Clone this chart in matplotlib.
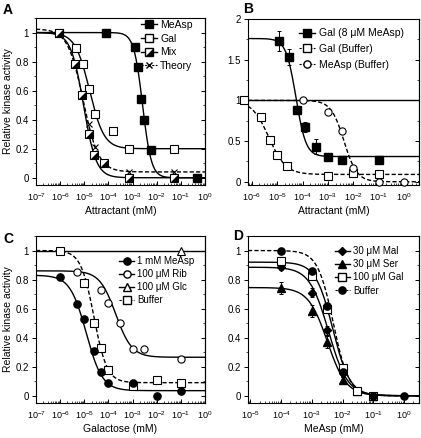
import numpy as np
import matplotlib.pyplot as plt
from matplotlib.ticker import LogLocator, MultipleLocator, NullFormatter
from matplotlib.lines import Line2D

plt.rcParams['font.family'] = ['Liberation Sans', 'DejaVu Sans']
plt.rcParams['font.size'] = 7
plt.rcParams['mathtext.default'] = 'regular'
plt.rcParams['axes.linewidth'] = 0.8

# ---------------- data ----------------
# Panel A
a_measp_x = [8e-5, 1.25e-3, 1.65e-3, 2.15e-3, 2.95e-3, 5.6e-3, 0.47]
a_measp_y = [1.0, 0.90, 0.76, 0.54, 0.40, 0.19, 0.0]
a_gal_x = [9e-7, 4.6e-6, 8.5e-6, 1.6e-5, 2.8e-5, 1.6e-4, 7e-4, 5.2e-2]
a_gal_y = [1.0, 0.89, 0.78, 0.61, 0.44, 0.32, 0.20, 0.20]
a_mix_x = [9e-7, 4.2e-6, 7.8e-6, 1.6e-5, 2.6e-5, 6.6e-5, 7e-4, 5.2e-2]
a_mix_y = [1.0, 0.78, 0.57, 0.30, 0.155, 0.10, 0.0, 0.0]
a_theory_x = [9e-7, 4.2e-6, 7.8e-6, 1.5e-5, 2.8e-5, 6.6e-5, 7e-4, 5.2e-2]
a_theory_y = [1.0, 0.78, 0.57, 0.37, 0.21, 0.10, 0.04, 0.04]
# fit parameters: top, bottom, K, n
a_fit_measp = (1.0, 0.0, 2.6e-3, 2.4)
a_fit_gal = (1.0, 0.2, 1.66e-5, 1.45)
a_fit_mix = (1.0, 0.0, 9.3e-6, 1.65)
a_fit_theory = (1.025, 0.04, 9e-6, 1.35)

# Panel B
b_gal8_x = [1.2e-5, 3e-5, 6e-5, 1.2e-4, 3.5e-4, 1e-3, 3.5e-3, 1e-1]
b_gal8_y = [1.73, 1.53, 0.88, 0.675, 0.43, 0.31, 0.27, 0.27]
b_gal8_err = [0.12, 0.10, 0.03, 0.06, 0.09, 0.02, 0.03, 0.02]
b_galbuf_x = [5e-7, 2.3e-6, 5e-6, 1e-5, 2.4e-5, 1e-3, 1e-2, 1e-1]
b_galbuf_y = [1.0, 0.79, 0.51, 0.33, 0.19, 0.07, 0.11, 0.095]
b_measpbuf_x = [1e-4, 1e-3, 3.5e-3, 1e-2, 1e-1, 1e0]
b_measpbuf_y = [1.0, 0.86, 0.62, 0.165, 0.0, 0.0]
b_fit_gal8 = (1.76, 0.31, 5.5e-5, 2.2)
b_fit_galbuf = (1.0, 0.09, 4.7e-6, 1.3)
b_fit_measpbuf = (1.0, 0.0, 4.3e-3, 1.7)
b_ref_level = 1.0

# Panel C
c_measp_x = [1e-6, 5e-6, 1e-5, 2.5e-5, 5e-5, 1e-4, 1e-3, 1e-2, 1e-1]
c_measp_y = [0.82, 0.63, 0.53, 0.31, 0.165, 0.09, 0.09, 0.0, 0.03]
c_rib_x = [5e-6, 5e-5, 1e-4, 3e-4, 1e-3, 3e-3, 1e-1]
c_rib_y = [0.85, 0.725, 0.64, 0.50, 0.325, 0.325, 0.25]
c_glc_x = [1e-1]
c_glc_y = [1.0]
c_buf_x = [1e-6, 1e-5, 2.5e-5, 5e-5, 1e-4, 1e-3, 1e-2, 1e-1]
c_buf_y = [1.0, 0.775, 0.50, 0.33, 0.18, 0.065, 0.11, 0.09]
c_fit_measp = (0.83, 0.035, 1.2e-5, 1.3)
c_fit_rib = (0.86, 0.265, 2e-4, 1.3)
c_fit_buf = (1.0, 0.09, 2.5e-5, 1.6)

# Panel D
d_x = [1e-4, 1e-3, 3e-3, 1e-2, 3e-2, 1e-1]
d_mal_y = [0.885, 0.71, 0.45, 0.16, 0.03, 0.0]
d_mal_err = [0.02, 0.03, 0.03, 0.03, 0.01, 0.0]
d_ser_y = [0.74, 0.585, 0.37, 0.11, 0.03, 0.0]
d_ser_err = [0.04, 0.04, 0.04, 0.02, 0.01, 0.0]
d_gal_y = [0.925, 0.825, 0.60, 0.19, 0.035, 0.0]
d_gal_err = [0.03, 0.02, 0.03, 0.02, 0.01, 0.0]
d_buf_x = [1e-4, 1e-3, 3e-3, 1e-2, 1e-1, 1e0]
d_buf_y = [1.0, 0.86, 0.62, 0.165, 0.0, 0.0]
d_fit_mal = (0.885, 0.0, 3.5e-3, 1.4)
d_fit_ser = (0.745, 0.0, 3.2e-3, 1.4)
d_fit_gal = (0.92, 0.0, 4.8e-3, 1.55)
d_fit_buf = (1.0, 0.0, 5e-3, 1.7)


def hill(x, p):
    top, bottom, k, n = p
    return bottom + (top - bottom) / (1 + (x / k) ** n)


W, H = 421, 438
fig = plt.figure(figsize=(W / 100, H / 100), dpi=100)


def box(l, t, r, b):
    return [l / W, 1 - b / H, (r - l) / W, (b - t) / H]


axA = fig.add_axes(box(36, 18, 205, 185))
axB = fig.add_axes(box(248, 19, 419, 185))
axC = fig.add_axes(box(36, 236, 205, 403))
axD = fig.add_axes(box(248, 236, 419, 403))

LW = 1.0
MS = 5.2
K = 'black'


def style(ax, xlim, ylim, yticks, yminor, ylabels):
    ax.set_xscale('log')
    ax.set_xlim(*xlim)
    ax.set_ylim(*ylim)
    ax.xaxis.set_major_locator(LogLocator(base=10, numticks=20))
    ax.xaxis.set_minor_locator(LogLocator(base=10, subs=np.arange(2, 10), numticks=20))
    ax.xaxis.set_minor_formatter(NullFormatter())
    ax.set_yticks(yticks)
    ax.set_yticklabels(ylabels)
    ax.yaxis.set_minor_locator(MultipleLocator(yminor))
    ax.tick_params(axis='x', which='major', direction='in', length=3, width=0.7, pad=4.5, labelsize=6.5)
    ax.tick_params(axis='x', which='minor', direction='in', length=1.6, width=0.5)
    ax.tick_params(axis='y', which='major', direction='out', length=3, width=0.7, pad=2, labelsize=7)
    ax.tick_params(axis='y', which='minor', direction='out', length=1.6, width=0.5)
    # inward ticks on the right-hand spine
    sec = ax.secondary_yaxis('right')
    sec.set_yticks(yticks)
    sec.yaxis.set_minor_locator(MultipleLocator(yminor))
    sec.tick_params(axis='y', which='major', direction='in', length=3, width=0.7, labelright=False)
    sec.tick_params(axis='y', which='minor', direction='in', length=1.6, width=0.5)
    sec.spines['right'].set_linewidth(0.8)


def curve(ax, xlim, p, ls='-'):
    xs = np.logspace(np.log10(xlim[0]), np.log10(xlim[1]), 400)
    ax.plot(xs, hill(xs, p), color=K, lw=LW, ls=ls, dashes=(3, 1.6) if ls == '--' else (None, None), zorder=2)


half_tri = [(-1, -1), (1, -1), (1, 1), (-1, -1)]
leg_kw = dict(loc='upper left', frameon=False, handlelength=1.5, handletextpad=0.35, borderpad=0.0)

# ---------------- Panel A ----------------
xlimA = (1e-7, 1e0)
style(axA, xlimA, (-0.05, 1.1), [0, 0.2, 0.4, 0.6, 0.8, 1], 0.1,
      ['0', '0.2', '0.4', '0.6', '0.8', '1'])
curve(axA, xlimA, a_fit_theory, '--')
curve(axA, xlimA, a_fit_gal)
curve(axA, xlimA, a_fit_mix)
curve(axA, xlimA, a_fit_measp)
axA.plot(a_theory_x, a_theory_y, 'x', color=K, ms=5, mew=0.8, zorder=4)
axA.plot(a_gal_x, a_gal_y, 's', mfc='white', mec=K, ms=MS, mew=0.8, zorder=3)
axA.plot(a_mix_x, a_mix_y, 's', mfc='white', mec=K, ms=MS, mew=0.8, zorder=5)
axA.plot(a_mix_x, a_mix_y, ls='none', marker=half_tri, mfc=K, mec=K, ms=MS, mew=0, zorder=5)
axA.plot(a_measp_x, a_measp_y, 's', mfc=K, mec=K, ms=MS, zorder=5)
axA.set_ylabel('Relative kinase activity', fontsize=7.5, labelpad=2)
axA.set_xlabel('Attractant (mM)', fontsize=7.5, labelpad=2)

hA = [Line2D([], [], color=K, lw=LW, marker='s', mfc=K, ms=MS),
      (Line2D([], [], color=K, lw=LW, marker='s', mfc='white', mec=K, ms=MS)),
      (Line2D([], [], color=K, lw=LW, marker='s', mfc='white', mec=K, ms=MS),
       Line2D([], [], ls='none', marker=half_tri, mfc=K, mec=K, mew=0, ms=MS)),
      Line2D([], [], color=K, lw=0.8, ls='--', dashes=(2, 1.2), marker='x', ms=5)]
axA.legend(hA, ['MeAsp', 'Gal', 'Mix', 'Theory'], bbox_to_anchor=(0.59, 1.02),
           fontsize=7.5, labelspacing=0.36, **leg_kw)

# ---------------- Panel B ----------------
xlimB = (10 ** -6.15, 10 ** 0.59)
style(axB, xlimB, (-0.04, 2.0), [0, 0.5, 1, 1.5, 2], 0.25,
      ['0', '0.5', '1', '1.5', '2'])
axB.axhline(b_ref_level, color=K, lw=LW, zorder=1)
curve(axB, xlimB, b_fit_galbuf, '--')
curve(axB, xlimB, b_fit_measpbuf, '--')
curve(axB, xlimB, b_fit_gal8)
axB.errorbar(b_gal8_x, b_gal8_y, yerr=b_gal8_err, fmt='s', color=K, mfc=K, ms=MS,
             elinewidth=0.7, capsize=1.5, capthick=0.7, zorder=5)
axB.plot(b_galbuf_x, b_galbuf_y, 's', mfc='white', mec=K, ms=MS, mew=0.8, zorder=5, clip_on=False)
axB.plot(b_measpbuf_x, b_measpbuf_y, 'o', mfc='white', mec=K, ms=MS, mew=0.8, zorder=5, clip_on=False)
axB.set_xlabel('Attractant (mM)', fontsize=7.5, labelpad=2)
hB = [Line2D([], [], color=K, lw=LW, marker='s', mfc=K, ms=MS),
      Line2D([], [], color=K, lw=0.8, ls='--', dashes=(2, 1.2), marker='s', mfc='white', ms=MS),
      Line2D([], [], color=K, lw=0.8, ls='--', dashes=(2, 1.2), marker='o', mfc='white', ms=MS)]
axB.legend(hB, ['Gal (8 μM MeAsp)', 'Gal (Buffer)', 'MeAsp (Buffer)'], bbox_to_anchor=(0.27, 0.975),
           fontsize=7.5, labelspacing=0.55, **leg_kw)

# ---------------- Panel C ----------------
xlimC = (1e-7, 1e0)
style(axC, xlimC, (-0.05, 1.1), [0, 0.2, 0.4, 0.6, 0.8, 1], 0.1,
      ['0', '0.2', '0.4', '0.6', '0.8', '1'])
axC.axhline(c_glc_y[0], color=K, lw=LW, zorder=1)
curve(axC, xlimC, c_fit_buf, '--')
curve(axC, xlimC, c_fit_rib)
curve(axC, xlimC, c_fit_measp)
axC.plot(c_glc_x, c_glc_y, '^', mfc='white', mec=K, ms=MS, mew=0.8, zorder=5)
axC.plot(c_buf_x, c_buf_y, 's', mfc='white', mec=K, ms=MS, mew=0.8, zorder=5)
axC.plot(c_rib_x, c_rib_y, 'o', mfc='white', mec=K, ms=MS, mew=0.8, zorder=5)
axC.plot(c_measp_x, c_measp_y, 'o', mfc=K, mec=K, ms=MS, zorder=6)
axC.set_ylabel('Relative kinase activity', fontsize=7.5, labelpad=2)
axC.set_xlabel('Galactose (mM)', fontsize=7.5, labelpad=2)
hC = [Line2D([], [], color=K, lw=LW, marker='o', mfc=K, ms=MS),
      Line2D([], [], color=K, lw=LW, marker='o', mfc='white', ms=MS),
      Line2D([], [], color=K, lw=LW, marker='^', mfc='white', ms=MS),
      Line2D([], [], color=K, lw=0.8, ls='--', dashes=(2, 1.2), marker='s', mfc='white', ms=MS)]
axC.legend(hC, ['1 mM MeAsp', '100 μM Rib', '100 μM Glc', 'Buffer'], bbox_to_anchor=(0.465, 0.907),
           fontsize=7, labelspacing=0.3, **leg_kw)

# ---------------- Panel D ----------------
xlimD = (10 ** -5.08, 10 ** 0.49)
style(axD, xlimD, (-0.05, 1.1), [0, 0.2, 0.4, 0.6, 0.8, 1], 0.1,
      ['0', '0.2', '0.4', '0.6', '0.8', '1'])
curve(axD, xlimD, d_fit_buf, '--')
curve(axD, xlimD, d_fit_gal)
curve(axD, xlimD, d_fit_mal)
curve(axD, xlimD, d_fit_ser)
axD.errorbar(d_x, d_ser_y, yerr=d_ser_err, fmt='^', color=K, mfc=K, ms=MS,
             elinewidth=0.7, capsize=1.5, capthick=0.7, zorder=5)
axD.errorbar(d_x, d_mal_y, yerr=d_mal_err, fmt='D', color=K, mfc=K, ms=3.6,
             elinewidth=0.7, capsize=1.5, capthick=0.7, zorder=5)
axD.errorbar(d_x, d_gal_y, yerr=d_gal_err, fmt='s', color=K, mfc='white', mec=K, ms=MS,
             mew=0.8, elinewidth=0.7, capsize=1.5, capthick=0.7, zorder=5)
axD.plot(d_buf_x, d_buf_y, 'o', mfc=K, mec=K, ms=MS, zorder=6)
axD.set_xlabel('MeAsp (mM)', fontsize=7.5, labelpad=2)
hD = [Line2D([], [], color=K, lw=LW, marker='D', mfc=K, ms=3.6),
      Line2D([], [], color=K, lw=LW, marker='^', mfc=K, ms=MS),
      Line2D([], [], color=K, lw=LW, marker='s', mfc='white', ms=MS),
      Line2D([], [], color=K, lw=0.8, ls='--', dashes=(2, 1.2), marker='o', mfc=K, ms=MS)]
axD.legend(hD, ['30 μM Mal', '30 μM Ser', '100 μM Gal', 'Buffer'], bbox_to_anchor=(0.48, 0.968),
           fontsize=7, labelspacing=0.32, **leg_kw)

# panel letters
for letter, (px, py) in zip('ABCD', [(3, 10), (243, 9), (3, 239), (233, 236)]):
    fig.text(px / W, 1 - py / H, letter, fontsize=10, fontweight='bold', va='center', ha='left')

fig.savefig('out.png', dpi=100)
